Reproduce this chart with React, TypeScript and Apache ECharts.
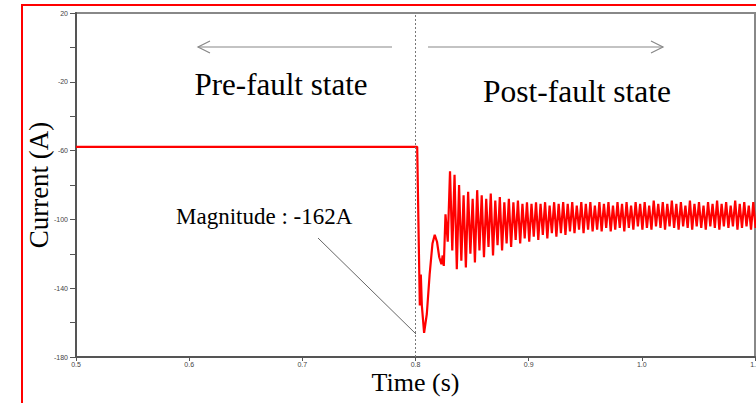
import React, { useEffect, useRef } from "react";
import * as echarts from "echarts";

// Pre-fault and fault-transient samples: [time (s), current (A)]
const transientTimes = [0.5, 0.8015, 0.8038, 0.8047, 0.8056, 0.8076, 0.81, 0.8125, 0.815, 0.817, 0.819, 0.821, 0.8229, 0.824, 0.825];
const transientValues = [-57.8, -57.8, -150, -132, -150, -166, -155, -132, -114, -109, -113, -122, -126, -121, -127];

// Post-fault oscillation, sampled every half period
const postFaultStart = 0.8265;
const postFaultStep = 0.002;
const postFaultValues = [
  -97, -113, -72, -118, -74, -129, -80, -124, -86, -128,
  -84, -120, -88, -125, -83, -118, -86, -122, -88, -116,
  -85, -121, -89, -115, -87, -118, -90, -114, -88, -116,
  -90, -112, -89, -114, -91, -111, -90, -113, -91, -110,
  -90, -112, -91, -109, -90, -111, -92, -108, -90, -110,
  -91, -108, -90, -109, -91, -107, -90, -108, -92, -106,
  -90, -108, -91, -106, -90, -107, -92, -106, -90, -107,
  -91, -105, -90, -107, -92, -106, -90, -105, -91, -107,
  -90, -105, -92, -106, -90, -104, -91, -106, -90, -105,
  -92, -106, -89, -104, -91, -105, -90, -106, -91, -104,
  -89, -105, -91, -106, -90, -104, -92, -105, -89, -106,
  -91, -104, -90, -105, -92, -106, -90, -104, -91, -105,
  -89, -106, -91, -104, -90, -105, -92, -104, -89, -106,
  -91, -105, -90, -104, -92, -106, -90, -105,
];

const xTicks = [0.5, 0.6, 0.7, 0.8, 0.9, 1.0, 1.1];
const yLabelled = [20, -20, -60, -100, -140, -180];
const faultTime = 0.8;

const SERIF = "'Liberation Serif', 'Times New Roman', serif";
const SANS = "'Liberation Sans', Arial, sans-serif";

export default function App() {
  const ref = useRef<HTMLDivElement>(null);
  useEffect(() => {
    if (!ref.current) return;
    const chart = echarts.init(ref.current, null, { renderer: "svg" });
    const data: number[][] = transientTimes.map((t, i) => [t, transientValues[i]]);
    postFaultValues.forEach((v, i) => data.push([postFaultStart + postFaultStep * i, v]));

    chart.setOption({
      animation: false,
      backgroundColor: "#ffffff",
      grid: {
        left: 76,
        right: 1,
        top: 13,
        bottom: 46,
        show: true,
        borderColor: "#888",
        borderWidth: 2,
        containLabel: false,
        outerBoundsMode: "none",
      },
      xAxis: {
        type: "value",
        min: xTicks[0],
        max: xTicks[xTicks.length - 1],
        interval: 0.1,
        name: "Time (s)",
        nameLocation: "middle",
        nameGap: 12,
        nameMoveOverlap: false,
        nameTextStyle: { fontFamily: SERIF, fontSize: 26, color: "#000" },
        axisLine: { show: true, onZero: false, lineStyle: { color: "#555", width: 2 } },
        axisTick: { show: true, length: 4, lineStyle: { color: "#555" } },
        axisLabel: {
          fontSize: 7,
          fontFamily: SANS,
          color: "#444",
          margin: 4,
          formatter: (v: number) => v.toFixed(1),
        },
        splitLine: { show: false },
      },
      yAxis: {
        type: "value",
        min: -180,
        max: 20,
        interval: 20,
        name: "Current (A)",
        nameLocation: "middle",
        nameRotate: 90,
        nameGap: 24,
        nameMoveOverlap: false,
        nameTextStyle: { fontFamily: SERIF, fontSize: 27, color: "#000" },
        axisLine: { show: true, onZero: false, lineStyle: { color: "#555", width: 2 } },
        axisTick: { show: true, length: 6, lineStyle: { color: "#555" } },
        axisLabel: {
          fontSize: 7,
          fontFamily: SANS,
          color: "#444",
          margin: 8,
          formatter: (v: number) => (yLabelled.indexOf(v) >= 0 ? String(v) : ""),
        },
        splitLine: { show: false },
      },
      series: [
        {
          type: "line",
          data,
          showSymbol: false,
          symbol: "none",
          lineStyle: { color: "#ff0000", width: 2.2 },
          markLine: {
            silent: true,
            symbol: "none",
            label: { show: false },
            lineStyle: { color: "#777", type: [2, 2], width: 1 },
            data: [{ xAxis: faultTime }],
          },
        },
      ],
      graphic: [
        { type: "line", shape: { x1: 198, y1: 47, x2: 392, y2: 47 }, style: { stroke: "#888", lineWidth: 1.2 } },
        { type: "polyline", shape: { points: [[210, 41], [198, 47], [210, 53]] }, style: { stroke: "#888", fill: "none", lineWidth: 1.2 } },
        { type: "line", shape: { x1: 428, y1: 47, x2: 663, y2: 47 }, style: { stroke: "#888", lineWidth: 1.2 } },
        { type: "polyline", shape: { points: [[651, 41], [663, 47], [651, 53]] }, style: { stroke: "#888", fill: "none", lineWidth: 1.2 } },
        {
          type: "text",
          x: 281,
          y: 84,
          style: { text: "Pre-fault state", font: `31px ${SERIF}`, fill: "#000", textAlign: "center", textVerticalAlign: "middle" },
        },
        {
          type: "text",
          x: 577,
          y: 91,
          style: { text: "Post-fault state", font: `31.5px ${SERIF}`, fill: "#000", textAlign: "center", textVerticalAlign: "middle" },
        },
        {
          type: "text",
          x: 176,
          y: 216,
          style: { text: "Magnitude : -162A", font: `23px ${SERIF}`, fill: "#000", textAlign: "left", textVerticalAlign: "middle" },
        },
        { type: "line", shape: { x1: 318, y1: 238, x2: 416, y2: 334 }, style: { stroke: "#666", lineWidth: 1 } },
        {
          type: "rect",
          shape: { x: 22, y: 5, width: 800, height: 500 },
          style: { fill: "none", stroke: "#ff0000", lineWidth: 2 },
          z: 100,
        },
      ],
    });
    return () => chart.dispose();
  }, []);
  return <div ref={ref} style={{ position: "fixed", left: 0, top: 0, width: 756, height: 403 }} />;
}
